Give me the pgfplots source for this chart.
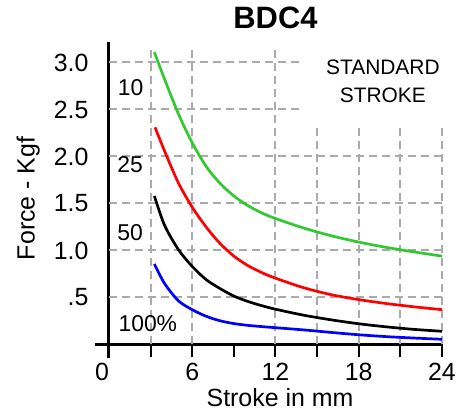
\documentclass[border=0pt]{standalone}
\usepackage{fontspec}
\setmainfont{Liberation Sans}
\usepackage{pgfplots}
\pgfplotsset{compat=1.18}
\definecolor{cgreen}{RGB}{50,200,50}
\definecolor{cgrid}{RGB}{170,170,170}

\begin{document}
\begin{tikzpicture}
\path[use as bounding box] (-95.1bp,-54.4bp) rectangle (374.9bp,357.6bp);
\begin{axis}[
    scale only axis,
    width=346.9bp, height=315.8bp,
    xmin=-1, xmax=24, ymin=-0.14, ymax=3.22,
    axis lines=middle,
    axis line style={-, line width=3bp},
    clip=false,
    hide obscured x ticks=false, hide obscured y ticks=false,
    /pgf/number format/assume math mode=true,
    xtick={3,6,...,24},
    xticklabels={,6,,12,,18,,24},
    extra x ticks={0},
    extra x tick style={xticklabel style={xshift=-7bp}},
    ytick={0.5,1,...,3},
    yticklabels={.5,1.0,1.5,2.0,2.5,3.0},
    ytick style={draw=none},
    tick align=outside,
    major tick length=13bp,
    xtick style={line width=2bp, black},
    ticklabel style={font=\fontsize{25}{25}\selectfont},
    xticklabel style={anchor=north, yshift=-2bp},
    yticklabel style={anchor=east, xshift=-4bp},
    xlabel={Stroke in mm},
    ylabel={Force - Kgf},
    xlabel style={at={(axis description cs:0.533,-0.126)}, anchor=center, font=\fontsize{25}{25}\selectfont},
    ylabel style={at={(axis description cs:-0.193,0.504)}, anchor=center, rotate=90, font=\fontsize{25}{25}\selectfont},
    title={BDC4},
    title style={at={(axis description cs:0.52,1.056)}, anchor=center, font=\bfseries\fontsize{31}{31}\selectfont},
]
% grid
\draw[cgrid, line width=2bp, dash pattern=on 8.5bp off 4.5bp]
  (axis cs:0,0.5) -- (axis cs:24,0.5)
  (axis cs:0,1.0) -- (axis cs:24,1.0)
  (axis cs:0,1.5) -- (axis cs:24,1.5)
  (axis cs:0,2.0) -- (axis cs:24,2.0)
  (axis cs:0,2.5) -- (axis cs:14,2.5)
  (axis cs:0,3.0) -- (axis cs:14,3.0)
  (axis cs:3,0) -- (axis cs:3,3.15)
  (axis cs:6,0) -- (axis cs:6,3.15)
  (axis cs:12,0) -- (axis cs:12,3.15)
  (axis cs:15,0) -- (axis cs:15,2.34)
  (axis cs:18,0) -- (axis cs:18,2.34)
  (axis cs:21,0) -- (axis cs:21,2.34)
  (axis cs:24,0) -- (axis cs:24,2.34);

% 10
\addplot[smooth, cgreen, line width=2.7bp] coordinates {
  (3.27,3.11) (4,2.825) (5,2.455) (6,2.145) (7,1.895) (8,1.715) (9,1.58)
  (10,1.478) (11,1.40) (12,1.34) (14,1.24) (16,1.157) (18,1.089) (20,1.032)
  (22,0.984) (24,0.94)
};
% 25
\addplot[smooth, red, line width=2.7bp] coordinates {
  (3.32,2.31) (4,2.06) (5,1.72) (6,1.46) (7,1.25) (8,1.075) (9,0.94)
  (10,0.84) (11,0.765) (12,0.705) (14,0.605) (16,0.53) (18,0.477) (20,0.435)
  (22,0.40) (24,0.37)
};
% 50
\addplot[smooth, black, line width=2.7bp] coordinates {
  (3.27,1.58) (4,1.27) (5,1.01) (6,0.83) (7,0.69) (8,0.595) (9,0.515)
  (10,0.458) (11,0.413) (12,0.375) (14,0.312) (16,0.262) (18,0.22) (20,0.187)
  (22,0.16) (24,0.14)
};
% 100%
\addplot[smooth, blue, line width=2.7bp] coordinates {
  (3.27,0.856) (4,0.65) (5,0.465) (6,0.37) (7,0.30) (8,0.252) (9,0.222)
  (10,0.203) (11,0.19) (12,0.178) (14,0.155) (16,0.128) (18,0.103) (20,0.083)
  (22,0.068) (24,0.055)
};

\node[inner sep=0pt, font=\fontsize{23}{23}\selectfont] at (axis cs:1.56,2.73) {10};
\node[inner sep=0pt, font=\fontsize{23}{23}\selectfont] at (axis cs:1.52,1.91) {25};
\node[inner sep=0pt, font=\fontsize{23}{23}\selectfont] at (axis cs:1.52,1.19) {50};
\node[inner sep=0pt, font=\fontsize{23}{23}\selectfont] at (axis cs:2.8,0.22) {100\%};
\node[inner sep=0pt, align=center, font=\fontsize{21}{29}\selectfont] at (axis cs:19.74,2.80) {STANDARD\\STROKE};
\end{axis}
\end{tikzpicture}
\end{document}
